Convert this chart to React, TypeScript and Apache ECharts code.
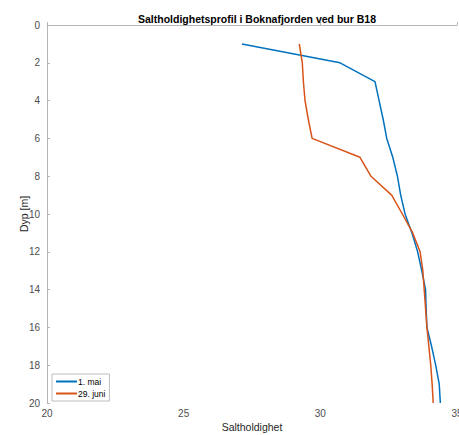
import React, { useEffect, useRef } from "react";
import * as echarts from "echarts";

const depths = [1, 2, 3, 4, 5, 6, 7, 8, 9, 10, 11, 12, 13, 14, 15, 16, 17, 18, 19, 20];
const salinityMai = [27.13, 30.72, 32.0, 32.15, 32.3, 32.43, 32.65, 32.82, 32.94, 33.1, 33.35, 33.56, 33.71, 33.85, 33.87, 33.9, 34.07, 34.22, 34.35, 34.39];
const salinityJuni = [29.23, 29.34, 29.38, 29.44, 29.56, 29.7, 31.45, 31.85, 32.61, 33.0, 33.38, 33.65, 33.75, 33.8, 33.85, 33.9, 33.97, 34.04, 34.09, 34.13];
const seriesNames = ["1. mai", "29. juni"];
const titleText = "Saltholdighetsprofil i Boknafjorden ved bur B18";
const xName = "Saltholdighet";
const yName = "Dyp [m]";

const FONT = "'Liberation Sans', Arial, Helvetica, sans-serif";

export default function App() {
  const ref = useRef<HTMLDivElement>(null);
  useEffect(() => {
    if (!ref.current) return;
    const chart = echarts.init(ref.current, undefined, { renderer: "svg" });
    const axisLine = { show: true, lineStyle: { color: "#b5b5b5", width: 1 } };
    chart.setOption({
      animation: false,
      textStyle: { fontFamily: FONT },
      title: {
        text: titleText,
        left: 252,
        textAlign: "center",
        top: 8,
        textStyle: { fontSize: 10.5, fontWeight: "bold", color: "#000", fontFamily: FONT },
      },
      grid: { left: 47, right: 2, top: 25, bottom: 32, containLabel: false, outerBoundsMode: "none" },
      legend: {
        left: 52,
        top: 374,
        orient: "vertical",
        icon: "rect",
        itemWidth: 21,
        itemHeight: 2,
        itemGap: 3,
        padding: [3, 4, 3, 4],
        borderColor: "#bdbdbd",
        borderWidth: 1,
        textStyle: { fontSize: 8.5, color: "#000", fontFamily: FONT, padding: [0, 0, 0, -4] },
        data: seriesNames,
      },
      xAxis: {
        type: "value",
        min: 20,
        max: 35,
        interval: 5,
        name: xName,
        nameLocation: "middle",
        nameGap: 18,
        nameMoveOverlap: false,
        nameTextStyle: { fontSize: 10.5, color: "#262626", fontFamily: FONT },
        axisLine,
        axisTick: { show: true, inside: true, length: 3, lineStyle: { color: "#b5b5b5" } },
        axisLabel: { fontSize: 10, color: "#4d4d4d", margin: 5, fontFamily: FONT },
        splitLine: { show: false },
      },
      yAxis: {
        type: "value",
        inverse: true,
        min: 0,
        max: 20,
        interval: 2,
        name: yName,
        nameLocation: "middle",
        nameGap: 18,
        nameMoveOverlap: false,
        nameRotate: 90,
        nameTextStyle: { fontSize: 10.5, color: "#262626", fontFamily: FONT },
        axisLine,
        axisTick: { show: true, inside: true, length: 3, lineStyle: { color: "#b5b5b5" } },
        axisLabel: { fontSize: 10, color: "#4d4d4d", margin: 7, fontFamily: FONT },
        splitLine: { show: false },
      },
      series: [
        {
          name: seriesNames[0],
          type: "line",
          showSymbol: false,
          symbol: "none",
          color: "#0072BD",
          lineStyle: { width: 1.5, color: "#0072BD" },
          data: depths.map((d, i) => [salinityMai[i], d]),
        },
        {
          name: seriesNames[1],
          type: "line",
          showSymbol: false,
          symbol: "none",
          color: "#D95319",
          lineStyle: { width: 1.5, color: "#D95319" },
          data: depths.map((d, i) => [salinityJuni[i], d]),
        },
      ],
    });
    return () => chart.dispose();
  }, []);
  return (
    <div
      ref={ref}
      style={{ position: "fixed", left: 0, top: 0, width: 459, height: 435, background: "#fff" }}
    />
  );
}
